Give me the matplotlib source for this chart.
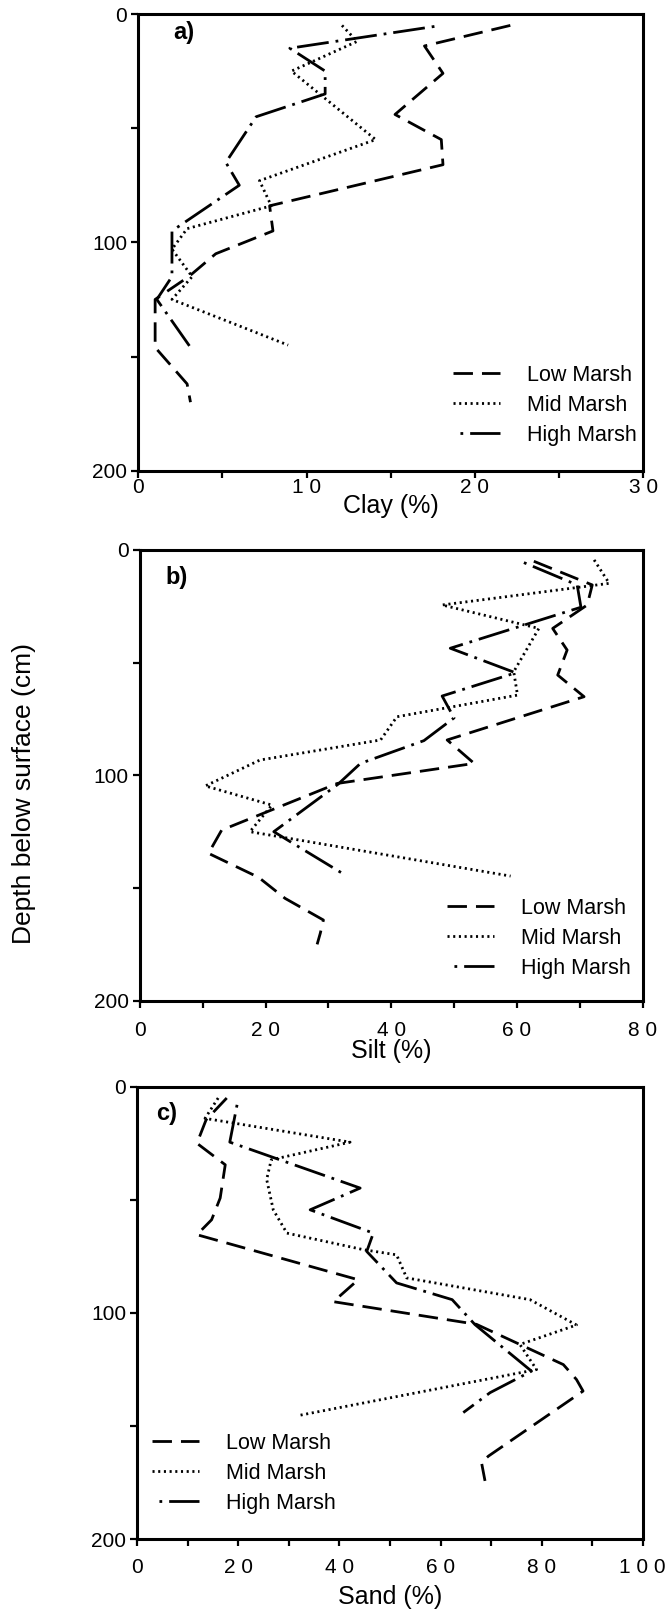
import matplotlib
matplotlib.use('Agg')
import matplotlib.pyplot as plt
from matplotlib.ticker import FixedLocator

plt.rcParams['font.family'] = ['Liberation Sans', 'DejaVu Sans']
plt.rcParams['lines.scale_dashes'] = False

# ---------------- data ----------------
series_names = ['Low Marsh', 'Mid Marsh', 'High Marsh']

# a) Clay (%)
clay_low_x = [22.1, 17.0, 18.1, 15.25, 18.0, 18.1, 7.8, 8.0, 4.6, 3.0, 1.0, 1.0, 2.9, 3.1]
clay_low_d = [5, 14, 26, 44, 55, 66, 84, 95, 105, 115, 125, 146, 162, 170]
clay_mid_x = [12.1, 13.0, 9.1, 14.1, 7.2, 7.9, 2.9, 2.0, 3.2, 2.0, 8.9]
clay_mid_d = [5, 12, 25, 55, 73, 84, 94, 103, 115, 125, 145]
clay_high_x = [18.0, 9.0, 11.1, 11.1, 7.0, 5.2, 6.0, 2.0, 2.0, 1.1, 3.1]
clay_high_d = [5, 15, 25, 35, 45, 65, 75, 95, 115, 125, 146]

# b) Silt (%)
silt_low_x = [62.7, 72.0, 71.2, 65.7, 68.0, 66.5, 70.7, 48.9, 53.2, 31.4, 13.0, 10.9,
              18.9, 23.1, 29.2, 28.7, 28.2]
silt_low_d = [5, 15.5, 24.4, 34.8, 44.4, 55.5, 65.1, 84.3, 94.7, 103.6, 124.3, 134.6,
              145.3, 154.6, 164.2, 170.1, 175]
silt_mid_x = [72.3, 74.7, 48.1, 63.5, 59.5, 60.1, 40.9, 38.3, 19.1, 10.4, 21.0, 17.5, 59.0]
silt_mid_d = [4.4, 14.8, 24.4, 34.8, 54, 64.4, 74, 84.3, 93.2, 104.7, 113.2, 125, 144.7]
silt_high_x = [60.1, 69.6, 70.2, 49.4, 59.8, 48.1, 50.0, 45.2, 35.1, 31.5, 21.3, 32.7]
silt_high_d = [4.4, 15.5, 25.4, 43.6, 54.5, 64.8, 74.5, 84.6, 94.7, 104, 125, 144.3]

# c) Sand (%)
sand_low_x = [17.7, 13.6, 11.8, 17.4, 16.4, 14.7, 11.8, 43.7, 38.8, 67.1, 84.3, 86.9,
              88.2, 69.5, 68.1, 68.8]
sand_low_d = [5, 14.7, 25, 34.5, 49.2, 58.8, 65.4, 85.3, 95, 105, 122.8, 129.4,
              134.5, 163.2, 166, 174.2]
sand_mid_x = [16.0, 13.4, 42.1, 26.5, 25.6, 26.9, 29.6, 44.7, 51.3, 53.3, 77.7, 86.9,
              75.7, 79.0, 31.9]
sand_mid_d = [5, 14, 24.5, 32.3, 41, 54.4, 64.7, 72, 74.3, 84.5, 94.1, 105.3,
              113.9, 125, 145.3]
sand_high_x = [20.0, 18.3, 44.1, 34.2, 46.7, 45.4, 51.3, 62.3, 66.8, 78.0, 69.8, 64.5]
sand_high_d = [5, 24.5, 44.8, 54.4, 64.7, 72.8, 86.7, 94.1, 105.1, 125.7, 135.2, 144]

panel_letters = ['a)', 'b)', 'c)']
x_labels = ['Clay (%)', 'Silt (%)', 'Sand (%)']
x_ticks = [[0, 10, 20, 30], [0, 20, 40, 60, 80], [0, 20, 40, 60, 80, 100]]
x_ticklabels = [['0', '1 0', '2 0', '3 0'],
                ['0', '2 0', '4 0', '6 0', '8 0'],
                ['0', '2 0', '4 0', '6 0', '8 0', '1 0 0']]
x_minor = [[5, 15, 25], [10, 30, 50, 70], [10, 30, 50, 70, 90]]
y_ticks = [0, 100, 200]
y_ticklabels = ['0', '100', '200']
y_minor = [50, 150]
y_label = 'Depth below surface (cm)'

# ---------------- styling ----------------
W, H = 667, 1613
styles = {
    'Low Marsh': dict(linestyle=(0, (14, 6.5))),
    'Mid Marsh': dict(linestyle=(0, (1.5, 2.6))),
    'High Marsh': dict(linestyle=(23, (23, 5, 2, 5))),
}
LW = 2.0

# axes boxes in pixels: left, right, top, bottom
boxes = [(138.3, 643.3, 14.0, 470.7),
         (140.0, 642.5, 550.0, 1000.7),
         (137.3, 642.7, 1086.7, 1539.3)]
legend_anchor = [(0.623, 0.232), (0.610, 0.228), (0.0285, 0.235)]
letter_pos = [(0.070, 0.96), (0.050, 0.939), (0.038, 0.941)]
xtick_pad = [0.2, 9.8, 8.3]
xlabel_y = [-0.052, -0.086, -0.101]

data = [
    [(clay_low_x, clay_low_d), (clay_mid_x, clay_mid_d), (clay_high_x, clay_high_d)],
    [(silt_low_x, silt_low_d), (silt_mid_x, silt_mid_d), (silt_high_x, silt_high_d)],
    [(sand_low_x, sand_low_d), (sand_mid_x, sand_mid_d), (sand_high_x, sand_high_d)],
]

fig = plt.figure(figsize=(W / 100, H / 100), dpi=100)

for i in range(3):
    l, r, t, b = boxes[i]
    ax = fig.add_axes([l / W, 1 - b / H, (r - l) / W, (b - t) / H])
    for name, (xs, ds) in zip(series_names, data[i]):
        ax.plot(xs, ds, color='black', lw=LW, label=name, **styles[name])
    ax.set_xlim(x_ticks[i][0], x_ticks[i][-1])
    ax.set_ylim(200, 0)
    ax.xaxis.set_major_locator(FixedLocator(x_ticks[i]))
    ax.set_xticklabels(x_ticklabels[i])
    ax.xaxis.set_minor_locator(FixedLocator(x_minor[i]))
    ax.yaxis.set_major_locator(FixedLocator(y_ticks))
    ax.set_yticklabels(y_ticklabels)
    ax.yaxis.set_minor_locator(FixedLocator(y_minor))
    ax.tick_params(which='both', direction='out', length=5, width=1.6, labelsize=15)
    ax.tick_params(axis='x', which='both', pad=xtick_pad[i])
    ax.tick_params(axis='y', which='both', pad=3)
    for s in ax.spines.values():
        s.set_linewidth(2.2)
    ax.set_xlabel(x_labels[i], fontsize=18)
    ax.xaxis.set_label_coords(0.5, xlabel_y[i])
    ax.text(letter_pos[i][0], letter_pos[i][1], panel_letters[i], transform=ax.transAxes,
            fontsize=17, fontweight='bold', va='center', ha='left')
    ax.legend(loc='upper left', bbox_to_anchor=legend_anchor[i], frameon=False,
              fontsize=15.5, borderpad=0, borderaxespad=0, handlelength=2.2,
              handletextpad=1.25, labelspacing=0.42)

fig.text(24 / W, 1 - 793 / H, y_label, rotation=90, ha='center', va='center', fontsize=19)

fig.savefig('out.png', dpi=100)
